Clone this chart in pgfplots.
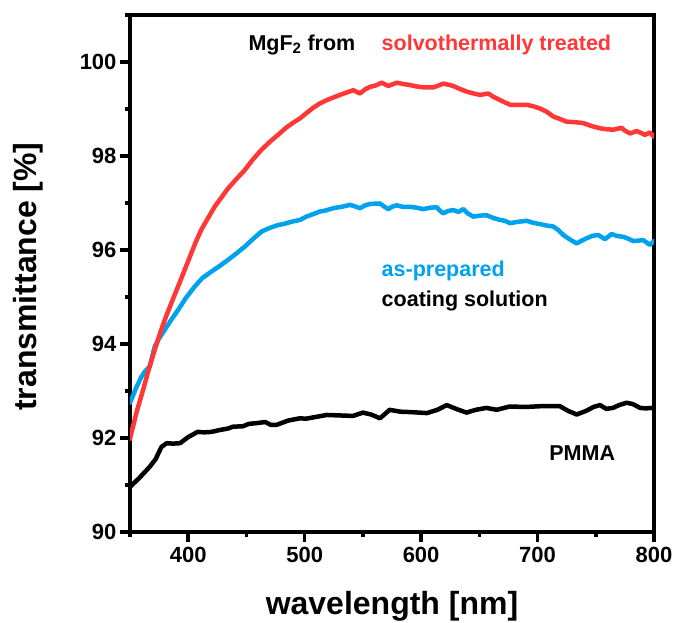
\documentclass[border=0pt]{standalone}
\usepackage{fontspec}
\setmainfont{Liberation Sans}
\usepackage{pgfplots}
\pgfplotsset{compat=1.18}
\definecolor{solvred}{RGB}{255,55,55}
\definecolor{prepblue}{RGB}{0,162,238}

\begin{document}
\begin{tikzpicture}
\begin{axis}[
    scale only axis,
    width=524pt, height=517pt,
    xmin=350, xmax=800, ymin=90, ymax=101,
    axis line style={line width=4pt},
    xtick={400,500,600,700,800},
    minor xtick={350,450,550,650,750},
    ytick={90,92,94,96,98,100},
    minor ytick={91,93,95,97,99,101},
    xtick pos=left, ytick pos=left,
    tick align=outside,
    major tick length=10pt, minor tick length=5pt,
    every tick/.style={black, line width=3.5pt},
    /pgf/number format/assume math mode=true,
    tick label style={font=\fontsize{22}{26}\selectfont\bfseries},
    xticklabel style={yshift=-2pt},
    xlabel={wavelength [nm]},
    ylabel={transmittance [\%]},
    label style={font=\fontsize{32}{38}\selectfont\bfseries},
    xlabel style={at={(axis description cs:0.5,-0.1605)}, anchor=base},
    ylabel style={at={(axis description cs:-0.1775,0.494)}, anchor=base},
    every axis plot/.append style={line join=round, line cap=round},
    clip=true,
]
% black: PMMA
\addplot[black, line width=4.5pt] coordinates {
(350,90.96) (358,91.15) (367,91.39) (372,91.55) (377,91.81) (381.5,91.89) (387,91.88)
(393,91.89) (400,92.02) (408,92.13) (414,92.12) (420,92.13) (427,92.17) (434,92.2)
(438.5,92.24) (447,92.25) (452,92.3) (460,92.32) (466,92.34) (471,92.28) (476,92.28)
(485.7,92.37) (496,92.42) (501,92.41) (510,92.45) (519,92.49) (530,92.48) (541.5,92.47)
(550,92.54) (557,92.5) (564.7,92.42) (573,92.6) (582,92.56) (592,92.55) (605,92.53)
(614,92.6) (622,92.7) (630,92.62) (639,92.54) (647,92.6) (656,92.64) (665,92.6)
(676,92.67) (690,92.66) (705,92.68) (719,92.68) (726,92.58) (733.6,92.5) (742,92.58)
(748,92.66) (753.6,92.7) (759,92.62) (764.7,92.64) (770,92.7) (776.5,92.75) (782,92.72)
(788,92.64) (793,92.63) (798,92.64) (800,92.63)
};
% blue: as-prepared
\addplot[prepblue, line width=4.5pt] coordinates {
(350,92.75) (355,93.05) (359.7,93.3) (363,93.42) (366.9,93.52) (371.2,93.94)
(375,94.12) (379.8,94.3) (385,94.5) (391.2,94.72) (398,94.98) (405.5,95.22)
(412,95.4) (419.8,95.54) (427,95.66) (434.2,95.79) (441,95.92) (448.5,96.07)
(455,96.22) (462.8,96.39) (470,96.47) (477.1,96.53) (483,96.56) (488.5,96.6)
(496,96.64) (501.4,96.71) (507,96.76) (513.2,96.82) (518,96.84) (524.6,96.89)
(532,96.92) (539,96.96) (543,96.93) (547.5,96.89) (552,96.95) (556.1,96.98)
(564.7,96.99) (568,96.93) (571.8,96.87) (575,96.92) (579,96.95) (584,96.92)
(590.4,96.92) (596,96.9) (601.9,96.87) (608,96.9) (613.4,96.91) (616,96.84)
(619,96.78) (623,96.83) (627.6,96.85) (632,96.81) (636.2,96.87) (640,96.78)
(644.8,96.71) (650,96.73) (656.3,96.74) (662,96.68) (667.7,96.64) (672,96.62)
(676.4,96.57) (683,96.6) (690.7,96.62) (696,96.58) (702.1,96.55) (708,96.52)
(713.5,96.5) (718,96.42) (722.1,96.32) (728,96.22) (733.6,96.14) (738,96.2)
(742.2,96.25) (747,96.3) (752.1,96.32) (757.9,96.23) (763.6,96.34) (768,96.3)
(773.6,96.28) (778,96.24) (782.2,96.19) (787,96.2) (790.8,96.21) (796.5,96.11)
(800,96.19)
};
% red: solvothermally treated
\addplot[solvred, line width=4.5pt] coordinates {
(350,91.98) (351.1,92.1) (356,92.58) (361.2,93.02) (366,93.45) (371.2,93.87)
(375,94.17) (379.8,94.51) (385,94.84) (391.2,95.22) (397,95.58) (402.6,95.93)
(407,96.2) (411.2,96.43) (417,96.68) (422.7,96.92) (428,97.1) (434.2,97.31)
(441,97.5) (448.5,97.7) (455,97.91) (462.8,98.13) (470,98.3) (477.1,98.45)
(484,98.6) (491.4,98.73) (496,98.8) (501.4,98.91) (507,99.02) (513.2,99.12)
(520,99.2) (530.3,99.3) (536,99.35) (541.8,99.4) (547.5,99.33) (552,99.42)
(556.1,99.47) (561,99.5) (566.1,99.56) (571.8,99.49) (575,99.52) (579,99.56)
(585,99.53) (590.4,99.51) (596,99.48) (601.9,99.46) (610.5,99.46) (615,99.5)
(619,99.54) (623,99.52) (627.6,99.49) (633,99.43) (639.1,99.37) (645,99.33)
(650.6,99.3) (657.7,99.33) (662,99.26) (667.7,99.19) (672,99.14) (676.4,99.09)
(683,99.09) (690.7,99.09) (696,99.06) (702.1,99.01) (708,98.94) (713.5,98.84)
(719,98.79) (725,98.73) (732,98.72) (739.3,98.7) (746,98.64) (753.6,98.59)
(759,98.57) (765,98.56) (772.2,98.6) (775,98.54) (779.4,98.48) (785.1,98.53)
(789,98.49) (792.2,98.45) (796.5,98.5) (800,98.41)
};
\node[anchor=base west, font=\fontsize{21.5}{26}\selectfont\bfseries, inner sep=0pt]
  at (axis cs:451.6,100.255) {MgF\textsubscript{2} from};
\node[anchor=base west, font=\fontsize{21.5}{26}\selectfont\bfseries, inner sep=0pt, text=solvred]
  at (axis cs:566,100.255) {solvothermally treated};
\node[anchor=base west, font=\fontsize{21.5}{26}\selectfont\bfseries, inner sep=0pt, text=prepblue]
  at (axis cs:566,95.43) {as-prepared};
\node[anchor=base west, font=\fontsize{21.5}{26}\selectfont\bfseries, inner sep=0pt]
  at (axis cs:566,94.79) {coating solution};
\node[anchor=base west, font=\fontsize{21.5}{26}\selectfont\bfseries, inner sep=0pt]
  at (axis cs:710,91.53) {PMMA};
\end{axis}
\pgfresetboundingbox
\path[use as bounding box] (current axis.south west) ++(-130pt,-91pt) rectangle ([shift={(20pt,15pt)}]current axis.north east);
\end{tikzpicture}
\end{document}
